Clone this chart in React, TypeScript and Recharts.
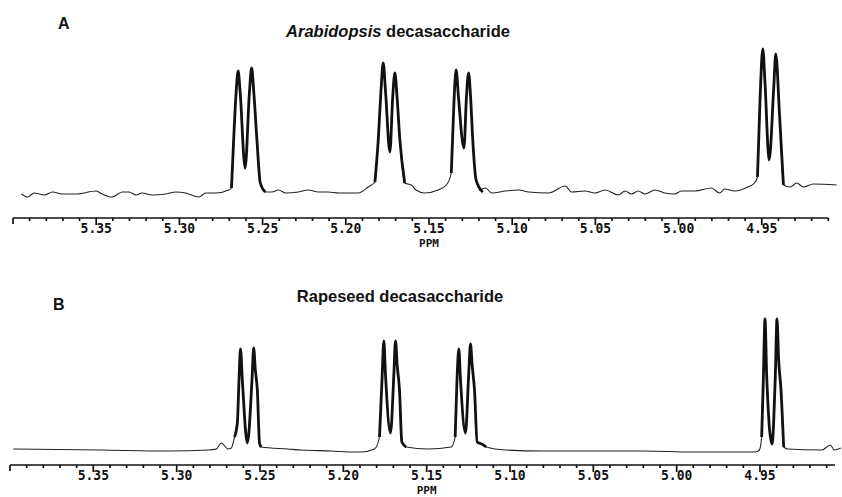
import React from "react";
import { LineChart, Line, XAxis, YAxis, ReferenceLine } from "recharts";

type Pt = [number, number]; // [ppm, intensity]

// ---- A: Arabidopsis decasaccharide ----
const baseA1: Pt[] = [
  [5.3949, -2], [5.3913, -5], [5.3871, -1], [5.3811, -3], [5.3763, 0], [5.3704, -2],
  [5.362, -2], [5.35, 1], [5.3464, -2], [5.3404, -5], [5.3344, 0], [5.3302, 0],
  [5.326, -3], [5.3225, -1], [5.3165, -3], [5.3081, -2], [5.3021, 0], [5.2961, -1],
  [5.2883, -5], [5.2841, -1], [5.2781, -1], [5.2704, 2],
];
const peakA1: Pt[] = [
  [5.2687, 4], [5.2674, 52], [5.2659, 100], [5.2647, 121], [5.2635, 100], [5.2605, 24],
  [5.2579, 100], [5.2566, 124], [5.2553, 100], [5.2534, 52], [5.2514, 9], [5.2484, 0],
];
const baseA2: Pt[] = [
  [5.2444, 0], [5.2404, 2], [5.2362, -1], [5.2284, 0], [5.2225, 2], [5.2165, 0],
  [5.2105, 0], [5.2045, -1], [5.1967, -1], [5.1925, -1], [5.1865, 5],
];
const peakA2: Pt[] = [
  [5.1825, 10], [5.1805, 52], [5.1789, 100], [5.1775, 129], [5.1761, 100], [5.1735, 40],
  [5.1718, 95], [5.1705, 119], [5.1692, 95], [5.1675, 52], [5.1646, 9],
];
const baseA3: Pt[] = [[5.1606, 7], [5.1578, 2], [5.1526, -1], [5.1446, 2], [5.1396, 7]];
const peakA3: Pt[] = [
  [5.1366, 19], [5.135, 90], [5.1337, 122], [5.1323, 95], [5.129, 44], [5.1275, 95],
  [5.1262, 119], [5.125, 95], [5.1237, 52], [5.1217, 12], [5.1177, 0],
];
const baseA4: Pt[] = [
  [5.1201, 2], [5.116, 4], [5.1123, -1], [5.1041, 1], [5.0961, 2], [5.0901, 0],
  [5.0781, -1], [5.0681, 6], [5.0644, 0], [5.0562, 1], [5.0502, -1], [5.0442, 2],
  [5.0362, -3], [5.0322, 1], [5.0283, -2], [5.0243, 1], [5.0202, -2], [5.0142, 2],
  [5.0083, -1], [5.0023, -2], [4.9983, 1], [4.9903, 1], [4.9804, 4], [4.9753, -1],
  [4.9723, 3], [4.9663, 1], [4.9584, 5], [4.9544, 9],
];
const peakA4: Pt[] = [
  [4.9526, 15], [4.951, 95], [4.9494, 143], [4.9481, 110], [4.9456, 32], [4.9428, 105],
  [4.9416, 138], [4.9394, 79], [4.937, 7],
];
const baseA5: Pt[] = [[4.933, 5], [4.929, 9], [4.925, 5], [4.919, 8], [4.905, 7]];

// ---- B: Rapeseed decasaccharide ----
const baseB1: Pt[] = [
  [5.398, 1], [5.3452, 0], [5.305, -1], [5.281, 0], [5.2762, 1], [5.2732, 7],
  [5.2692, 1], [5.2672, 2],
];
const peakB1: Pt[] = [
  [5.2653, 13], [5.2636, 27], [5.2626, 70], [5.2617, 101], [5.2606, 70], [5.2576, 7],
  [5.2548, 70], [5.2538, 102], [5.2528, 80], [5.2516, 60], [5.2503, 7], [5.2493, 3],
];
const baseB2: Pt[] = [[5.2332, 1], [5.2253, 0], [5.2073, -1], [5.1935, -2], [5.1893, -2], [5.1813, 1]];
const peakB2: Pt[] = [
  [5.1783, 13], [5.1768, 70], [5.1757, 109], [5.1747, 75], [5.1717, 17], [5.1697, 75],
  [5.1687, 109], [5.1677, 85], [5.1663, 60], [5.1649, 8], [5.1623, 3],
];
const baseB3: Pt[] = [[5.1493, 1], [5.1353, 3]];
const peakB3: Pt[] = [
  [5.1329, 13], [5.1318, 70], [5.1307, 101], [5.1297, 70], [5.1267, 17], [5.1248, 75],
  [5.1237, 106], [5.1227, 85], [5.1213, 60], [5.1197, 8], [5.1169, 6], [5.1143, 3],
];
const baseB4: Pt[] = [
  [5.1027, 0], [5.08, -1], [5.0527, -1], [5.02, -1], [4.99, -2], [4.9528, -2], [4.9504, 0],
];
const peakB4: Pt[] = [
  [4.949, 13], [4.948, 70], [4.947, 131], [4.946, 75], [4.9428, 6], [4.9408, 75],
  [4.9398, 131], [4.9388, 90], [4.9374, 60], [4.9358, 3],
];
const baseB5: Pt[] = [[4.9334, 1], [4.9128, 0], [4.9078, 5], [4.9054, 0], [4.9014, 2]];

// axis ticks (ppm)
const majorTicks = [5.35, 5.3, 5.25, 5.2, 5.15, 5.1, 5.05, 5.0, 4.95];
const minorTicks = [
  5.4, 5.39, 5.38, 5.37, 5.36, 5.35, 5.34, 5.33, 5.32, 5.31, 5.3, 5.29, 5.28, 5.27, 5.26,
  5.25, 5.24, 5.23, 5.22, 5.21, 5.2, 5.19, 5.18, 5.17, 5.16, 5.15, 5.14, 5.13, 5.12, 5.11,
  5.1, 5.09, 5.08, 5.07, 5.06, 5.05, 5.04, 5.03, 5.02, 5.01, 5.0, 4.99, 4.98, 4.97, 4.96,
  4.95, 4.94, 4.93, 4.92, 4.91,
];
const axisUnit = "PPM";

const toRows = (pts: Pt[]) => pts.map(([ppm, y]) => ({ ppm, y }));
const near = (a: number, b: number) => Math.abs(a - b) < 1e-6;

const PpmTick = (props: any) => {
  const { x, y, payload } = props;
  const v: number = payload.value;
  const major = majorTicks.some((m) => near(m, v));
  const end = near(v, 5.4);
  const len = major ? 7 : end ? 6 : 3;
  return (
    <g>
      <line x1={x} x2={x} y1={y} y2={y + len} stroke="#111" strokeWidth={1.7} />
      {major && (
        <text
          transform={`translate(${x},${y + 14.5}) scale(1,1.15)`}
          textAnchor="middle"
          fontFamily="DejaVu Sans Mono"
          fontWeight="bold"
          fontSize={13}
          fill="#111"
        >
          {v.toFixed(2)}
        </text>
      )}
      {near(v, 5.15) && (
        <text
          x={x}
          y={y + 28.5}
          textAnchor="middle"
          fontFamily="DejaVu Sans Mono"
          fontWeight="bold"
          fontSize={11}
          fill="#111"
        >
          {axisUnit}
        </text>
      )}
    </g>
  );
};

interface PanelProps {
  segments: Pt[][];
  peaks: Pt[][];
  height: number;
  left: number;
  right: number;
  xDomain: [number, number];
  yDomain: [number, number];
  axisEnd: number;
}

const Panel = ({ segments, peaks, height, left, right, xDomain, yDomain, axisEnd }: PanelProps) => {
  const trace = toRows(segments.flat());
  return (
    <LineChart width={842} height={height} data={trace} margin={{ top: 40, right, bottom: 2, left }}>
      <XAxis
        dataKey="ppm"
        type="number"
        reversed
        domain={xDomain}
        allowDataOverflow
        ticks={minorTicks}
        interval={0}
        axisLine={false}
        tickLine={false}
        tickSize={0}
        tickMargin={0}
        height={30}
        tick={PpmTick}
      />
      <YAxis hide type="number" domain={yDomain} allowDataOverflow />
      <ReferenceLine
        segment={[{ x: 5.4, y: yDomain[0] }, { x: axisEnd, y: yDomain[0] }]}
        stroke="#111"
        strokeWidth={1.3}
        ifOverflow="visible"
      />
      <Line
        dataKey="y"
        type="monotone"
        stroke="#222"
        strokeWidth={1.1}
        dot={false}
        isAnimationActive={false}
      />
      {peaks.map((p, i) => (
        <Line
          key={i}
          data={toRows(p)}
          dataKey="y"
          type="monotone"
          stroke="#111"
          strokeWidth={2.8}
          dot={false}
          isAnimationActive={false}
        />
      ))}
    </LineChart>
  );
};

const titleStyle: React.CSSProperties = {
  position: "absolute",
  fontWeight: "bold",
  fontSize: 16.5,
  lineHeight: "15px",
  color: "#111",
  whiteSpace: "nowrap",
  textAlign: "center",
  width: 300,
};

export default function App() {
  return (
    <div
      style={{
        position: "absolute",
        left: 0,
        top: 0,
        width: 842,
        height: 497,
        background: "#fff",
        fontFamily: "'Liberation Sans', Arial, sans-serif",
      }}
    >
      <div style={{ position: "absolute", top: 0, left: 0 }}>
        <Panel
          segments={[baseA1, peakA1, baseA2, peakA2, baseA3, peakA3, baseA4, peakA4, baseA5]}
          peaks={[peakA1, peakA2, peakA3, peakA4]}
          height={250}
          left={13}
          right={2}
          xDomain={[4.903, 5.4]}
          yDomain={[-26, 152]}
          axisEnd={4.91}
        />
      </div>
      <div style={{ position: "absolute", top: 250, left: 0 }}>
        <Panel
          segments={[baseB1, peakB1, baseB2, peakB2, baseB3, peakB3, baseB4, peakB4, baseB5]}
          peaks={[peakB1, peakB2, peakB3, peakB4]}
          height={247}
          left={10}
          right={1}
          xDomain={[4.9014, 5.4]}
          yDomain={[-15, 160]}
          axisEnd={4.905}
        />
      </div>
      <div style={{ ...titleStyle, fontSize: 16, left: 58, top: 16, width: "auto" }}>A</div>
      <div style={{ ...titleStyle, left: 398 - 150, top: 24 }}>
        <i>Arabidopsis</i> decasaccharide
      </div>
      <div style={{ ...titleStyle, fontSize: 16, left: 53, top: 297, width: "auto" }}>B</div>
      <div style={{ ...titleStyle, left: 400 - 150, top: 289 }}>Rapeseed decasaccharide</div>
    </div>
  );
}
